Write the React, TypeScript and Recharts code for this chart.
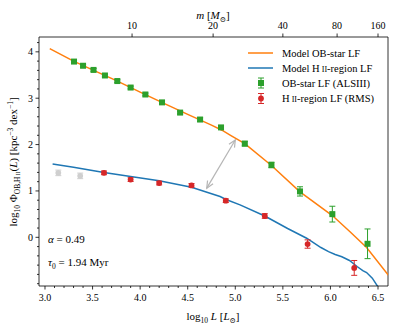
import React from 'react';
import { ComposedChart, Line, Scatter, XAxis, YAxis, ErrorBar, ReferenceLine } from 'recharts';

const FONT = 'Liberation Serif, DejaVu Serif, serif';

// ---- axes / ticks ----
const xDomain = [2.937, 6.605];
const yDomain = [-1.05, 4.32];
const xMajorTicks = [3.0, 3.5, 4.0, 4.5, 5.0, 5.5, 6.0, 6.5];
const xMinorTicks = [3.1, 3.2, 3.3, 3.4, 3.6, 3.7, 3.8, 3.9, 4.1, 4.2, 4.3, 4.4, 4.6, 4.7, 4.8, 4.9, 5.1, 5.2, 5.3, 5.4, 5.6, 5.7, 5.8, 5.9, 6.1, 6.2, 6.3, 6.4];
const yMajorTicks = [0, 1, 2, 3, 4];
const yMinorTicks = [-1.0, -0.8, -0.6, -0.4, -0.2, 0.2, 0.4, 0.6, 0.8, 1.2, 1.4, 1.6, 1.8, 2.2, 2.4, 2.6, 2.8, 3.2, 3.4, 3.6, 3.8, 4.2];
const massTickLabels = ['10', '20', '40', '80', '160'];
const massTickLogL = [3.915, 4.767, 5.5, 6.07, 6.5];

// ---- model curves ----
const obModelLogL = [3.05, 3.3, 3.5, 3.75, 4.0, 4.25, 4.5, 4.75, 4.86, 4.95, 5.1, 5.38, 5.68, 6.02, 6.2, 6.38, 6.61];
const obModelPhi = [4.07, 3.8, 3.61, 3.38, 3.13, 2.89, 2.65, 2.42, 2.31, 2.2, 2.02, 1.55, 0.98, 0.47, 0.13, -0.22, -0.82];
const hiiModelLogL = [3.08, 3.3, 3.62, 3.9, 4.2, 4.54, 4.84, 4.91, 5.05, 5.31, 5.55, 5.75, 5.9, 5.98, 6.05, 6.12, 6.2, 6.28, 6.34, 6.38, 6.44, 6.5, 6.52];
const hiiModelPhi = [1.58, 1.51, 1.4, 1.31, 1.22, 1.08, 0.88, 0.81, 0.7, 0.46, 0.19, -0.02, -0.22, -0.31, -0.37, -0.42, -0.5, -0.63, -0.72, -0.76, -0.88, -1.07, -1.12];

// ---- observed LFs ----
const alsLogL = [3.305, 3.4, 3.51, 3.63, 3.76, 3.9, 4.055, 4.23, 4.42, 4.63, 4.85, 5.1, 5.38, 5.68, 6.02, 6.39];
const alsPhi = [3.79, 3.7, 3.61, 3.49, 3.37, 3.23, 3.08, 2.91, 2.69, 2.54, 2.37, 2.02, 1.56, 0.99, 0.5, -0.14];
const alsErr = [0.03, 0.03, 0.03, 0.03, 0.03, 0.03, 0.03, 0.03, 0.03, 0.04, 0.04, 0.05, 0.06, 0.1, 0.17, 0.32];
const rmsLogL = [3.62, 3.9, 4.2, 4.54, 4.9, 5.31, 5.76, 6.25];
const rmsPhi = [1.39, 1.245, 1.17, 1.12, 0.79, 0.46, -0.145, -0.66];
const rmsErr = [0.04, 0.04, 0.04, 0.04, 0.04, 0.05, 0.09, 0.16];
const rmsExcludedLogL = [3.14, 3.37];
const rmsExcludedPhi = [1.39, 1.325];
const rmsExcludedErr = [0.06, 0.06];

// ---- arrow ----
const arrowFrom = { x: 4.7, y: 1.06 };
const arrowTo = { x: 5.0, y: 2.1 };

// ---- legend / annotations ----
const legendLabels = ['Model OB-star LF', 'Model H II-region LF', 'OB-star LF (ALSIII)', 'H II-region LF (RMS)'];
const alphaValue = '0.49';
const tauValue = '1.94';

const C_ORANGE = '#ff7f0e';
const C_BLUE = '#1f77b4';
const C_GREEN = '#2ca02c';
const C_RED = '#d62728';
const C_GREY = '#cfcfcf';

const zipXY = (xs: number[], ys: number[], es?: number[]) =>
  xs.map((x, i) => (es ? { x, y: ys[i], err: es[i] } : { x, y: ys[i] }));

const obModel = zipXY(obModelLogL, obModelPhi);
const hiiModel = zipXY(hiiModelLogL, hiiModelPhi);
const als = zipXY(alsLogL, alsPhi, alsErr);
const rms = zipXY(rmsLogL, rmsPhi, rmsErr);
const rmsExcl = zipXY(rmsExcludedLogL, rmsExcludedPhi, rmsExcludedErr);

const isIn = (arr: number[], v: number) => arr.some((t) => Math.abs(t - v) < 1e-6);
const TXT = { fontFamily: FONT };

const BottomTick = (p: any) => {
  const { x, y, payload } = p;
  const major = isIn(xMajorTicks, payload.value);
  return (
    <g>
      <line x1={x} y1={y} x2={x} y2={y + (major ? 3.5 : 2)} stroke="#000" strokeWidth={0.8} />
      {major && (
        <text x={x} y={y + 15} textAnchor="middle" fontSize={10} style={TXT} fill="#000">
          {payload.value.toFixed(1)}
        </text>
      )}
    </g>
  );
};

const TopTick = (p: any) => {
  const { x, y, payload } = p;
  const idx = massTickLogL.findIndex((t) => Math.abs(t - payload.value) < 1e-6);
  return (
    <g>
      <line x1={x} y1={y} x2={x} y2={y - 3.5} stroke="#000" strokeWidth={0.8} />
      <text x={x} y={y - 8} textAnchor="middle" fontSize={10} style={TXT} fill="#000">
        {idx >= 0 ? massTickLabels[idx] : ''}
      </text>
    </g>
  );
};

const LeftTick = (p: any) => {
  const { x, y, payload } = p;
  const major = isIn(yMajorTicks, payload.value);
  return (
    <g>
      <line x1={x} y1={y} x2={x - (major ? 3.5 : 2)} y2={y} stroke="#000" strokeWidth={0.8} />
      {major && (
        <text x={x - 6} y={y + 3.5} textAnchor="end" fontSize={10} style={TXT} fill="#000">
          {String(payload.value)}
        </text>
      )}
    </g>
  );
};

const SquareMarker = (color: string) => (p: any) => {
  const { cx, cy } = p;
  if (cx == null || cy == null) return <g />;
  return <rect x={cx - 3} y={cy - 3} width={6} height={6} fill={color} />;
};
const CircleMarker = (color: string) => (p: any) => {
  const { cx, cy } = p;
  if (cx == null || cy == null) return <g />;
  return <circle cx={cx} cy={cy} r={2.9} fill={color} />;
};

const ArrowShape = (p: any) => {
  const { x1, y1, x2, y2 } = p;
  if ([x1, y1, x2, y2].some((v) => v == null || isNaN(v))) return <g />;
  const dx = x2 - x1;
  const dy = y2 - y1;
  const len = Math.sqrt(dx * dx + dy * dy) || 1;
  const ux = dx / len;
  const uy = dy / len;
  const hl = 7;
  const hw = 3.2;
  const head = (tx: number, ty: number, sx: number, sy: number) => {
    const bx = tx - sx * hl;
    const by = ty - sy * hl;
    const px = -sy * hw;
    const py = sx * hw;
    return `M${bx + px},${by + py} L${tx},${ty} L${bx - px},${by - py}`;
  };
  return (
    <g>
      <line x1={x1} y1={y1} x2={x2} y2={y2} stroke="#b5b5b5" strokeWidth={1.2} />
      <path d={head(x2, y2, ux, uy)} stroke="#b5b5b5" strokeWidth={1.2} fill="none" />
      <path d={head(x1, y1, -ux, -uy)} stroke="#b5b5b5" strokeWidth={1.2} fill="none" />
    </g>
  );
};

const HIIText = ({ label }: { label: string }) => {
  const parts = label.split('H II');
  if (parts.length === 1) return <>{label}</>;
  return (
    <>
      {parts[0]}H{'\u2009'}
      <tspan fontSize={8}>II</tspan>
      {parts[1]}
    </>
  );
};

const Legend = () => {
  const rows = [53, 68, 83, 98.5];
  const hx1 = 248;
  const hx2 = 273;
  const mx = 261;
  const tx = 282;
  return (
    <g style={TXT} fontSize={10.5} fill="#000">
      <line x1={hx1} y1={rows[0]} x2={hx2} y2={rows[0]} stroke={C_ORANGE} strokeWidth={1.5} />
      <line x1={hx1} y1={rows[1]} x2={hx2} y2={rows[1]} stroke={C_BLUE} strokeWidth={1.5} />
      <g stroke={C_GREEN} strokeWidth={1}>
        <line x1={mx} y1={rows[2] - 5} x2={mx} y2={rows[2] + 5} />
        <line x1={mx - 3} y1={rows[2] - 5} x2={mx + 3} y2={rows[2] - 5} />
        <line x1={mx - 3} y1={rows[2] + 5} x2={mx + 3} y2={rows[2] + 5} />
      </g>
      <rect x={mx - 3} y={rows[2] - 3} width={6} height={6} fill={C_GREEN} />
      <g stroke={C_RED} strokeWidth={1}>
        <line x1={mx} y1={rows[3] - 5} x2={mx} y2={rows[3] + 5} />
        <line x1={mx - 3} y1={rows[3] - 5} x2={mx + 3} y2={rows[3] - 5} />
        <line x1={mx - 3} y1={rows[3] + 5} x2={mx + 3} y2={rows[3] + 5} />
      </g>
      <circle cx={mx} cy={rows[3]} r={2.9} fill={C_RED} />
      {legendLabels.map((l, i) => (
        <text key={l} x={tx} y={rows[i] + 3.7} style={TXT} fontSize={10.5}>
          <HIIText label={l} />
        </text>
      ))}
    </g>
  );
};

const Annotations = () => (
  <g style={TXT} fill="#000">
    {/* top axis label */}
    <text x={213} y={19} textAnchor="middle" fontSize={11} style={TXT}>
      <tspan fontStyle="italic">m</tspan> [<tspan fontStyle="italic">M</tspan>
      <tspan fontSize={7.5} dy={2.5}>{'\u2299'}</tspan>
      <tspan dy={-2.5}>]</tspan>
    </text>
    {/* bottom axis label */}
    <text x={213} y={320} textAnchor="middle" fontSize={11} style={TXT}>
      log<tspan fontSize={7.5} dy={3}>10</tspan>
      <tspan dy={-3}> </tspan>
      <tspan fontStyle="italic">L</tspan> [<tspan fontStyle="italic">L</tspan>
      <tspan fontSize={7.5} dy={2.5}>{'\u2299'}</tspan>
      <tspan dy={-2.5}>]</tspan>
    </text>
    {/* y axis label */}
    <text x={0} y={0} transform="translate(17,162) rotate(-90)" textAnchor="middle" fontSize={11} style={TXT}>
      log<tspan fontSize={7.5} dy={3}>10</tspan>
      <tspan dy={-3}> Φ</tspan>
      <tspan fontSize={7.5} dy={3}>OB,H</tspan>
      <tspan fontSize={6} dx={1}>II</tspan>
      <tspan dy={-3}>(</tspan>
      <tspan fontStyle="italic">L</tspan>) [kpc
      <tspan fontSize={7.5} dy={-4}>−3</tspan>
      <tspan dy={4}> dex</tspan>
      <tspan fontSize={7.5} dy={-4}>−1</tspan>
      <tspan dy={4}>]</tspan>
    </text>
    {/* parameters */}
    <text x={48} y={243} fontSize={11} style={TXT}>
      <tspan fontStyle="italic">α</tspan> = {alphaValue}
    </text>
    <text x={48} y={266} fontSize={11} style={TXT}>
      <tspan fontStyle="italic">τ</tspan>
      <tspan fontSize={7.5} dy={2.5}>0</tspan>
      <tspan dy={-2.5}> = {tauValue}  Myr</tspan>
    </text>
  </g>
);

export default function App() {
  return (
    <div style={{ position: 'absolute', left: 0, top: 0, width: 396, height: 327, background: '#fff', fontFamily: FONT }}>
      <ComposedChart width={396} height={327} margin={{ top: 0, right: 8, bottom: 0, left: 0 }}>
        <XAxis
          xAxisId="b"
          type="number"
          dataKey="x"
          domain={xDomain}
          allowDataOverflow
          ticks={[...xMajorTicks, ...xMinorTicks]}
          interval={0}
          tickSize={0}
          tickMargin={0}
          tickLine={false}
          tick={<BottomTick />}
          height={41}
          axisLine={{ stroke: '#000', strokeWidth: 0.8 }}
        />
        <XAxis
          xAxisId="t"
          orientation="top"
          type="number"
          dataKey="x"
          domain={xDomain}
          allowDataOverflow
          ticks={massTickLogL}
          interval={0}
          tickSize={0}
          tickMargin={0}
          tickLine={false}
          tick={<TopTick />}
          height={37}
          axisLine={{ stroke: '#000', strokeWidth: 0.8 }}
        />
        <YAxis
          yAxisId="l"
          type="number"
          dataKey="y"
          domain={yDomain}
          allowDataOverflow
          ticks={[...yMajorTicks, ...yMinorTicks]}
          interval={0}
          tickSize={0}
          tickMargin={0}
          tickLine={false}
          tick={<LeftTick />}
          width={39}
          axisLine={{ stroke: '#000', strokeWidth: 0.8 }}
        />
        <ReferenceLine xAxisId="b" yAxisId="l" x={xDomain[1]} stroke="#000" strokeWidth={0.8} ifOverflow="visible" />
        <ReferenceLine
          xAxisId="b"
          yAxisId="l"
          segment={[arrowFrom, arrowTo]}
          ifOverflow="visible"
          shape={ArrowShape}
        />
        <Line xAxisId="b" yAxisId="l" data={obModel} dataKey="y" type="linear" stroke={C_ORANGE} strokeWidth={1.5} dot={false} isAnimationActive={false} />
        <Line xAxisId="b" yAxisId="l" data={hiiModel} dataKey="y" type="linear" stroke={C_BLUE} strokeWidth={1.5} dot={false} isAnimationActive={false} />
        <Scatter xAxisId="b" yAxisId="l" data={rmsExcl} dataKey="y" shape={CircleMarker(C_GREY)} isAnimationActive={false}>
          <ErrorBar dataKey="err" direction="y" width={3} stroke={C_GREY} strokeWidth={1} isAnimationActive={false} />
        </Scatter>
        <Scatter xAxisId="b" yAxisId="l" data={als} dataKey="y" shape={SquareMarker(C_GREEN)} isAnimationActive={false}>
          <ErrorBar dataKey="err" direction="y" width={3} stroke={C_GREEN} strokeWidth={1} isAnimationActive={false} />
        </Scatter>
        <Scatter xAxisId="b" yAxisId="l" data={rms} dataKey="y" shape={CircleMarker(C_RED)} isAnimationActive={false}>
          <ErrorBar dataKey="err" direction="y" width={3} stroke={C_RED} strokeWidth={1} isAnimationActive={false} />
        </Scatter>
        <Legend />
        <Annotations />
      </ComposedChart>
    </div>
  );
}
